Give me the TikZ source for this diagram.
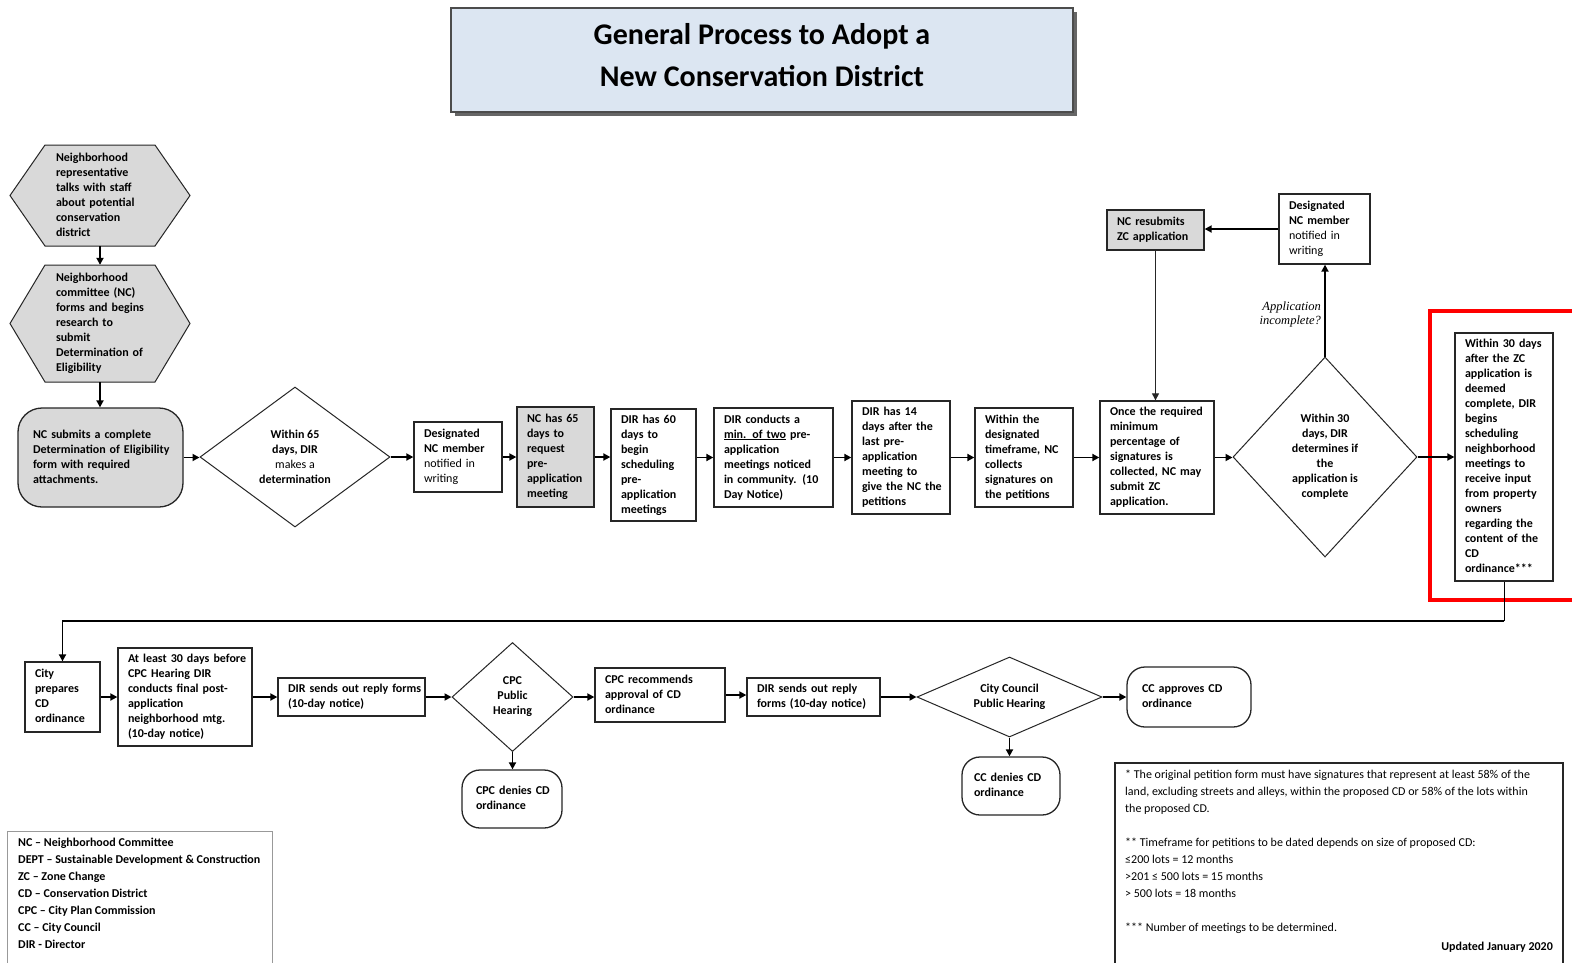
\documentclass[tikz,border=0pt]{standalone}
\usepackage{fontspec}
\setmainfont{Carlito}
\newfontfamily\serifit{Liberation Serif}
\usetikzlibrary{shapes.geometric,arrows.meta,calc,shadows}
\definecolor{titlefill}{HTML}{DCE6F2}
\definecolor{boxgray}{HTML}{D9D9D9}
\definecolor{lineclr}{HTML}{262626}
\newcommand{\boxlines}[1]{\begin{tabular}{@{}l@{}}#1\end{tabular}}
\begin{document}
\begin{tikzpicture}[x=1pt,y=-1pt,
  every node/.style={font=\fontsize{12}{15}\selectfont\bfseries, text=black},
  pbox/.style={rectangle, draw=lineclr, line width=1.3pt, fill=white, inner xsep=10pt, inner ysep=0pt, align=left},
  gbox/.style={pbox, fill=boxgray},
  rbox/.style={pbox, rounded corners=18pt},
  dia/.style={diamond, draw=lineclr, line width=1pt, fill=white, align=center, inner sep=0pt},
  arr/.style={line width=1.8pt, draw=black, -{Triangle[length=7pt,width=7pt]}},
  tarr/.style={line width=1pt, draw=black!85, -{Triangle[length=7pt,width=7pt]}},
  hex/.style={fill=boxgray, draw=lineclr, line width=1pt},
  hextext/.style={inner sep=0pt, align=left},
]
\useasboundingbox (0,0) rectangle (1572,962);
\fill[white] (0,0) rectangle (1572,962);

% title
\node[draw=black!70, line width=1.3pt, fill=titlefill, minimum width=622pt, minimum height=104pt,
  drop shadow={shadow xshift=4pt, shadow yshift=-4pt, fill=black!60, opacity=1}] (title) at (762,60) {};
\node[align=center, inner sep=0pt, font=\fontsize{30}{42}\selectfont\bfseries] (titletext) at (762,55)
  {General Process to Adopt a\\New Conservation District};

% hexagons
\filldraw[hex] (10,195.5) -- (45,145) -- (155,145) -- (190,195.5) -- (155,246) -- (45,246) -- cycle;
\node[hextext, minimum height=101pt, text width=88pt] (h1) at (100,195.5)
  {\boxlines{Neighborhood\\representative\\talks with staff\\about potential\\conservation\\district}};
\filldraw[hex] (10,323.5) -- (45,265) -- (155,265) -- (190,323.5) -- (155,382) -- (45,382) -- cycle;
\node[hextext, minimum height=117pt, text width=88pt] (h2) at (100,323.5)
  {\boxlines{Neighborhood\\committee (NC)\\forms and begins\\research to\\submit\\Determination of\\Eligibility}};

% row 1
\node[gbox, rounded corners=24pt, minimum height=99pt, inner xsep=15pt, text width=135pt] (nc) at (100.5,457.5)
  {\boxlines{NC submits a complete\\Determination of Eligibility\\form with required\\attachments.}};
\node[dia, minimum width=190pt, minimum height=140pt] (d1) at (295,457)
  {Within 65\\days, DIR\\\mdseries makes a\\determination};
\node[pbox, minimum height=70pt, text width=68pt] (b1) at (458,457)
  {\boxlines{Designated\\NC member\\\mdseries notified in\\\mdseries writing}};
\node[gbox, minimum height=100pt, text width=57pt] (b2) at (555.5,457)
  {\boxlines{NC has 65\\days to\\request\\pre-\\application\\meeting}};
\node[pbox, minimum height=112pt, text width=65pt] (b3) at (653.5,465)
  {\boxlines{DIR has 60\\days to\\begin\\scheduling\\pre-\\application\\meetings}};
\node[pbox, minimum height=99pt, text width=99pt] (b4) at (773.5,457.5)
  {\boxlines{DIR conducts a\\\underline{min. of two} pre-\\application\\meetings noticed\\in community. (10\\Day Notice)}};
\node[pbox, minimum height=113pt, text width=78pt] (b5) at (901,457.5)
  {\boxlines{DIR has 14\\days after the\\last pre-\\application\\meeting to\\give the NC the\\petitions}};
\node[pbox, minimum height=99pt, text width=78pt] (b6) at (1024,457.5)
  {\boxlines{Within the\\designated\\timeframe, NC\\collects\\signatures on\\the petitions}};
\node[pbox, minimum height=113pt, text width=94pt] (b7) at (1157,457.5)
  {\boxlines{Once the required\\minimum\\percentage of\\signatures is\\collected, NC may\\submit ZC\\application.}};
\node[dia, minimum width=184pt, minimum height=200pt] (d2) at (1325,457)
  {Within 30\\days, DIR\\determines if\\the\\application is\\complete};
\node[pbox, minimum height=248pt, text width=78pt] (b8) at (1504,457)
  {\boxlines{Within 30 days\\after the ZC\\application is\\deemed\\complete, DIR\\begins\\scheduling\\neighborhood\\meetings to\\receive input\\from property\\owners\\regarding the\\content of the\\CD\\ordinance***}};
\node[pbox, minimum height=70pt, text width=71pt] (b9) at (1324.5,229)
  {\boxlines{Designated\\NC member\\\mdseries notified in\\\mdseries writing}};
\node[gbox, minimum height=40pt, text width=77pt] (rs) at (1155.5,230)
  {\boxlines{NC resubmits\\ZC application}};
\node[font=\serifit\itshape\fontsize{12.5}{14}\selectfont, align=right, anchor=east, inner sep=0pt] (q) at (1321,314)
  {Application\\incomplete?};

% red highlight
\draw[red, line width=4pt] (1580,311) -- (1430,311) -- (1430,600) -- (1580,600);

% row 2
\node[pbox, minimum height=70pt, text width=55pt] (c1) at (62.5,697)
  {\boxlines{City\\prepares\\CD\\ordinance}};
\node[pbox, minimum height=98pt, text width=114pt] (c2) at (185,697)
  {\boxlines{At least 30 days before\\CPC Hearing DIR\\conducts final post-\\application\\neighborhood mtg.\\(10-day notice)}};
\node[pbox, minimum height=38pt, text width=127pt] (c3) at (351.5,697)
  {\boxlines{DIR sends out reply forms\\(10-day notice)}};
\node[dia, minimum width=121pt, minimum height=109pt] (dc) at (512.5,697)
  {CPC\\Public\\Hearing};
\node[pbox, minimum height=54pt, text width=110pt] (c4) at (660,695)
  {\boxlines{CPC recommends\\approval of CD\\ordinance}};
\node[pbox, minimum height=38pt, text width=113pt] (c5) at (813.5,697)
  {\boxlines{DIR sends out reply\\forms (10-day notice)}};
\node[dia, aspect=3, minimum width=185pt, minimum height=80pt] (dcc) at (1009.5,697)
  {City Council\\Public Hearing};
\node[rbox, minimum height=60pt, inner xsep=15pt, text width=94pt] (app) at (1189,697)
  {\boxlines{CC approves CD\\ordinance}};
\node[rbox, minimum height=58pt, inner xsep=12pt, text width=74pt] (ccden) at (1011,786)
  {\boxlines{CC denies CD\\ordinance}};
\node[rbox, minimum height=58pt, inner xsep=14pt, text width=72pt] (cpcden) at (512,799)
  {\boxlines{CPC denies CD\\ordinance}};

% connectors
\draw[arr] (h1.south) -- (h2.north);
\draw[arr] (h2.south) -- (h2.south |- nc.north);
\draw[arr] (nc.east) -- (nc.east -| d1.west);
\draw[arr] (d1.east) -- (d1.east -| b1.west);
\draw[arr] (b1.east) -- (b1.east -| b2.west);
\draw[arr] (b2.east) -- (b2.east -| b3.west);
\draw[arr] (b3.east |- b4.west) -- (b4.west);
\draw[arr] (b4.east) -- (b4.east -| b5.west);
\draw[arr] (b5.east) -- (b5.east -| b6.west);
\draw[arr] (b6.east) -- (b6.east -| b7.west);
\draw[arr] (b7.east) -- (b7.east -| d2.west);
\draw[arr] (d2.east) -- (d2.east -| b8.west);
\draw[arr] (d2.north) -- (d2.north |- b9.south);
\draw[arr] (b9.west) -- (b9.west -| rs.east);
\draw[tarr] (rs.south) -- (rs.south |- b7.north);
\draw[line width=1pt] (b8.south) -- ++(0,39) coordinate (turn);
\draw[arr] (turn) -| (c1.north);
\draw[arr] (c1.east) -- (c1.east -| c2.west);
\draw[arr] (c2.east) -- (c2.east -| c3.west);
\draw[arr] (c3.east) -- (c3.east -| dc.west);
\draw[arr] (dc.east) -- (dc.east -| c4.west);
\draw[arr] (c4.east) -- (c4.east -| c5.west);
\draw[arr] (c5.east) -- (c5.east -| dcc.west);
\draw[arr] (dcc.east) -- (dcc.east -| app.west);
\draw[arr] (dcc.south) -- (dcc.south |- ccden.north);
\draw[arr] (dc.south) -- (dc.south |- cpcden.north);

% legend
\draw[draw=black!40, line width=1pt] (7,975) -- (7,831) -- (272,831) -- (272,975);
\node[anchor=north west, align=left, inner sep=0pt, font=\fontsize{12}{17}\selectfont\bfseries] (legend) at (18,838)
  {NC – Neighborhood Committee\\DEPT – Sustainable Development \& Construction\\ZC – Zone Change\\CD – Conservation District\\CPC – City Plan Commission\\CC – City Council\\DIR - Director};

% notes
\draw[draw=lineclr, line width=1.3pt] (1115,975) -- (1115,763) -- (1563,763) -- (1563,975);
\node[anchor=north west, align=left, inner sep=0pt, font=\fontsize{12}{17}\selectfont] (notes) at (1125,770)
  {* The original petition form must have signatures that represent at least 58\% of the\\land, excluding streets and alleys, within the proposed CD or 58\% of the lots within\\the proposed CD.\\[17pt]** Timeframe for petitions to be dated depends on size of proposed CD:\\≤200 lots = 12 months\\>201 ≤ 500 lots = 15 months\\> 500 lots = 18 months\\[17pt]*** Number of meetings to be determined.};
\node[anchor=east, inner sep=0pt, font=\fontsize{12}{17}\selectfont\bfseries] (upd) at (1553,947) {Updated January 2020};
\end{tikzpicture}
\end{document}
